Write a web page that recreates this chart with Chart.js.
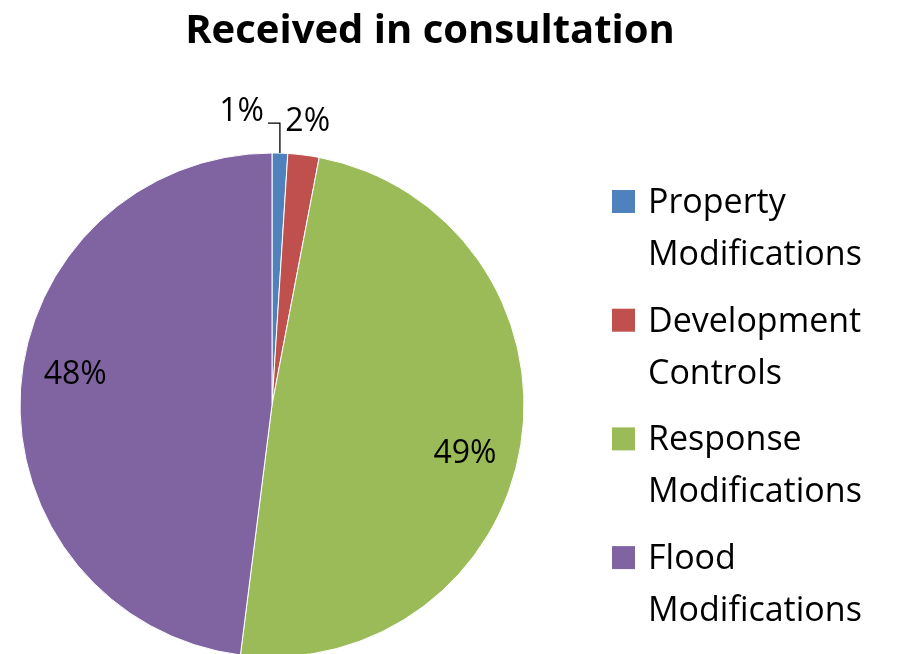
<!DOCTYPE html>
<html>
<head>
<meta charset="utf-8">
<script src="https://cdn.jsdelivr.net/npm/chart.js@4"></script>
<style>
  html, body { margin: 0; padding: 0; background: #fff; }
  canvas { display: block; }
</style>
</head>
<body>
<canvas id="canvas" width="898" height="654"></canvas>
<script>
const chartTitle = "Received in consultation";
const categories = [["Property", "Modifications"], ["Development", "Controls"], ["Response", "Modifications"], ["Flood", "Modifications"]];
const shares = [1, 2, 49, 48];
const colours = ["#4F81BD", "#C0504D", "#9BBB59", "#8064A2"];

const FONT = "'Open Sans', sans-serif";

// title, percentage labels and the legend are drawn here
const extras = {
    id: "extras",
    afterDatasetsDraw(chart) {
        const ctx = chart.ctx;
        const arcs = chart.getDatasetMeta(0).data;
        ctx.save();
        ctx.fillStyle = "#000";

        ctx.font = "bold 40px " + FONT;
        ctx.textAlign = "center";
        ctx.textBaseline = "alphabetic";
        ctx.fillText(chartTitle, 430, 43);

        ctx.font = "32px " + FONT;
        arcs.forEach((arc, i) => {
            const p = arc.getProps(["x", "y", "startAngle", "endAngle", "outerRadius"], true);
            const txt = shares[i] + "%";
            const mid = (p.startAngle + p.endAngle) / 2;
            if (i === 0) {
                const ax = p.x + Math.cos(mid) * p.outerRadius;
                const ay = p.y + Math.sin(mid) * p.outerRadius;
                ctx.strokeStyle = "#000";
                ctx.lineWidth = 1.3;
                ctx.beginPath();
                ctx.moveTo(ax, ay);
                ctx.lineTo(ax, ay - 30);
                ctx.lineTo(ax - 12, ay - 30);
                ctx.stroke();
                ctx.textAlign = "right";
                ctx.textBaseline = "middle";
                ctx.fillText(txt, ax - 16, ay - 41);
            } else if (i === 1) {
                const r = p.outerRadius + 33;
                ctx.textAlign = "center";
                ctx.textBaseline = "middle";
                ctx.fillText(txt, p.x + Math.cos(mid) * r, p.y + Math.sin(mid) * r);
            } else {
                const a = p.startAngle + 0.53 * (p.endAngle - p.startAngle);
                const r = p.outerRadius * 0.79;
                ctx.textAlign = "center";
                ctx.textBaseline = "middle";
                ctx.fillText(txt, p.x + Math.cos(a) * r, p.y + Math.sin(a) * r);
            }
        });

        // legend
        ctx.font = "34px " + FONT;
        ctx.textAlign = "left";
        ctx.textBaseline = "alphabetic";
        categories.forEach((lines, i) => {
            const base = 213 + i * 118.7;
            ctx.fillStyle = colours[i];
            ctx.fillRect(612, base - 23, 23, 23);
            ctx.fillStyle = "#000";
            lines.forEach((ln, j) => ctx.fillText(ln, 648, base + j * 52));
        });
        ctx.restore();
    }
};

const ctx = document.getElementById("canvas").getContext("2d");
const pie = new Chart(ctx, {
    type: "pie",
    data: {
        labels: categories.map(c => c.join(" ")),
        datasets: [{
            data: shares,
            backgroundColor: colours,
            borderColor: "#ffffff",
            borderWidth: 1,
            radius: 252,
            clip: false
        }]
    },
    options: {
        responsive: false,
        animation: false,
        layout: { padding: { left: 20, right: 374, top: 156, bottom: 0 } },
        plugins: {
            legend: { display: false },
            tooltip: { enabled: false }
        }
    },
    plugins: [extras]
});
</script>
</body>
</html>
